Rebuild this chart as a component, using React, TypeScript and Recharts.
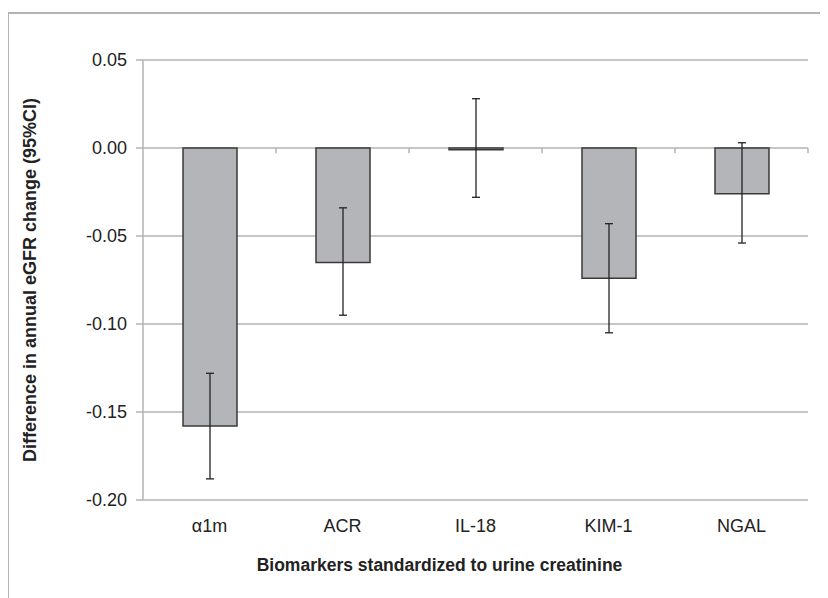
import { BarChart, Bar, XAxis, YAxis, CartesianGrid, ErrorBar, ReferenceLine, Label } from 'recharts';

const biomarkers = ['α1m', 'ACR', 'IL-18', 'KIM-1', 'NGAL'];
const estimates = [-0.158, -0.065, -0.001, -0.074, -0.026];
const ciLower = [-0.188, -0.095, -0.028, -0.105, -0.054];
const ciUpper = [-0.128, -0.034, 0.028, -0.043, 0.003];
const yTicks = [-0.2, -0.15, -0.1, -0.05, 0, 0.05];

const data = biomarkers.map((name, i) => ({
    name,
    value: estimates[i],
    err: [estimates[i] - ciLower[i], ciUpper[i] - estimates[i]],
}));

const FONT = '"Liberation Sans", Arial, sans-serif';
const GRID = '#b3b3b3';

const App = () => {
    return (
        <div style={{ position: 'relative', width: 820, height: 590, fontFamily: FONT }}>
            <div
                style={{
                    position: 'absolute',
                    left: -1,
                    top: 4,
                    width: 830,
                    height: 600,
                    borderTop: `2px solid ${GRID}`,
                    borderLeft: `2px solid ${GRID}`,
                }}
            />
            <div style={{ position: 'absolute', left: -8, top: -8 }}>
                <BarChart
                    width={828}
                    height={598}
                    data={data}
                    margin={{ top: 60, right: 20, bottom: 68, left: 83 }}
                >
                    <CartesianGrid vertical={false} stroke={GRID} strokeWidth={1.5} />
                    <XAxis
                        dataKey="name"
                        height={30}
                        axisLine={false}
                        tickLine={false}
                        tickSize={0}
                        tickMargin={19}
                        tick={{ fill: '#222', fontSize: 18, fontFamily: FONT }}
                    >
                        <Label
                            value="Biomarkers standardized to urine creatinine"
                            position="bottom"
                            offset={29}
                            dx={-36}
                            fill="#222"
                            style={{ fontSize: 17.5, fontWeight: 'bold', fontFamily: FONT }}
                        />
                    </XAxis>
                    <YAxis
                        width={60}
                        domain={[-0.2, 0.05]}
                        ticks={yTicks}
                        interval={0}
                        tickFormatter={(v: number) => v.toFixed(2)}
                        axisLine={{ stroke: GRID, strokeWidth: 1.5 }}
                        tickLine={{ stroke: GRID, strokeWidth: 1.5 }}
                        tickSize={7}
                        tickMargin={9}
                        tick={{ fill: '#222', fontSize: 18, fontFamily: FONT }}
                    >
                        <Label
                            value="Difference in annual eGFR change (95%CI)"
                            angle={-90}
                            position="left"
                            offset={53}
                            fill="#222"
                            textAnchor="middle"
                            style={{ fontSize: 18, fontWeight: 'bold', fontFamily: FONT }}
                        />
                    </YAxis>
                    {biomarkers.slice(1).map((b) => (
                        <ReferenceLine
                            key={`tick-${b}`}
                            segment={[{ x: b, y: 0 }, { x: b, y: -0.003 }]}
                            position="start"
                            stroke={GRID}
                            strokeWidth={1.5}
                            ifOverflow="visible"
                        />
                    ))}
                    <ReferenceLine
                        segment={[{ x: 'NGAL', y: 0 }, { x: 'NGAL', y: -0.003 }]}
                        position="end"
                        stroke={GRID}
                        strokeWidth={1.5}
                        ifOverflow="visible"
                    />
                    <Bar
                        dataKey="value"
                        barSize={54}
                        fill="#b4b5b8"
                        stroke="#3a3a3a"
                        strokeWidth={1.5}
                        isAnimationActive={false}
                    >
                        <ErrorBar dataKey="err" width={4} stroke="#222" strokeWidth={1.3} direction="y" />
                    </Bar>
                </BarChart>
            </div>
        </div>
    );
};

export default App;
